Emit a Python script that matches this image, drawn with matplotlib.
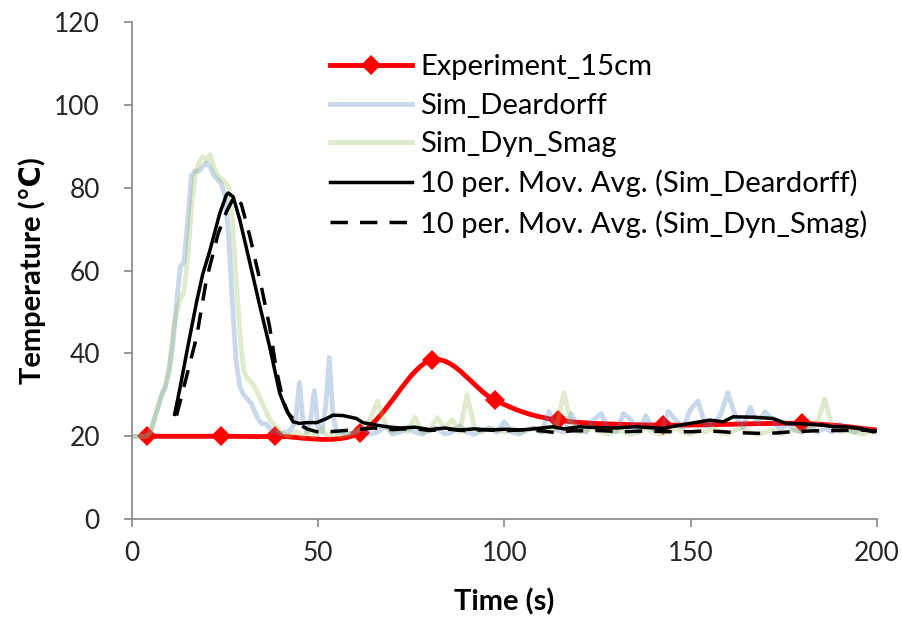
import matplotlib
matplotlib.use('Agg')
import matplotlib.pyplot as plt
from matplotlib.path import Path
from matplotlib.patches import PathPatch
from matplotlib.lines import Line2D

plt.rcParams['font.family'] = ['Lato', 'DejaVu Sans']

# experiment (thermocouple at 15 cm)
exp_time = [4, 24, 38.4, 61.2, 80.5, 97.5, 114.4, 142.6, 179.8, 200]
exp_temp = [20, 20, 20, 20.8, 38.4, 28.7, 23.9, 22.7, 23.1, 21.5]

# simulations, 1 s up to 56 s then every 2 s
sim_time = list(range(0, 57)) + list(range(58, 201, 2))
sim_deardorff = [20, 20, 20, 20, 20, 21, 24, 27, 30, 32,
                 36, 42, 52, 61, 62, 72, 83, 84, 84, 85,
                 86, 85, 83, 82, 81, 78, 68, 52, 38, 32,
                 30, 29, 28, 26, 24, 23, 23, 22, 21, 21,
                 20.5, 21, 21, 22, 24, 33, 23, 21, 24, 31,
                 22, 21, 27, 39, 25, 21, 21,
                 20.5, 21, 22, 20.5, 21, 22.5, 20.5, 21, 22, 21,
                 20.5, 21.5, 22, 20.5, 21, 22.5, 21, 20.5, 21.5, 22,
                 21, 23.5, 21, 20.5, 21.5, 22, 21, 26, 21.5, 21,
                 25.5, 21.5, 21, 24, 25.5, 21.5, 21, 25.5, 24, 21,
                 25, 21.5, 21, 26, 24, 22, 26.5, 28.5, 22.5, 23,
                 25, 30.5, 25, 22, 27, 23, 26, 24, 21.5, 23,
                 21.5, 21, 22.5, 21, 22, 21, 23, 21.5, 21, 22,
                 21.5, 21]
sim_dyn_smag = [20, 20, 20, 20, 20, 21, 24, 27, 30, 32,
                36, 45, 50, 53, 55, 63, 75, 83, 86, 87.5,
                86.5, 88, 85, 83, 82, 81.5, 80, 72, 58, 45,
                36, 34, 33, 32, 30, 28, 26, 24, 23, 22,
                21, 20.5, 20, 20.5, 21, 20.5, 20, 21, 20.5, 20,
                21, 22, 20.5, 20, 21, 20.5, 20,
                20.5, 21, 22, 24, 28.5, 23, 21, 22, 21, 24.5,
                21, 21.5, 24.5, 22, 24, 21, 30, 22, 21, 22,
                21.5, 21, 22, 21, 21.5, 22, 21, 21.5, 22, 30.5,
                23, 21, 21.5, 22, 21, 20.5, 21.5, 21, 20.5, 21,
                22, 21, 20.5, 21, 22, 21, 20.5, 21.5, 21, 22,
                21, 20.5, 21.5, 22, 21, 20.5, 21, 21.5, 20.5, 21,
                21.5, 21, 22, 23, 29, 22.5, 21, 21.5, 21, 20.5,
                21, 21]

# 10 period moving averages
ma_dear_time = [11.5, 13, 15, 17.4, 19, 21, 23.6, 25.4, 25.9, 27.2, 29, 31.7, 34.4, 37,
                39.7, 41.5, 43.3, 45, 47, 49.6, 52.3, 54, 56.7, 60.3, 62, 65, 68.4, 72,
                76, 80, 84, 88, 92, 96, 100, 104.2, 108, 113, 116, 120.3, 125, 130, 135,
                142.6, 146, 149.8, 155.2, 158.8, 161.4, 167, 172.1, 175.7, 180, 185.6,
                188.3, 191.9, 196, 199]
ma_dear_temp = [25.3, 32, 41.5, 52.5, 59, 65, 73.8, 78.3, 78.7, 77.8, 72.2, 61.8, 51.3, 41.6,
                30.4, 26.3, 23.5, 23.1, 23.3, 23.3, 24.3, 25.1, 25, 24.3, 23.3, 22.8, 22.3, 22,
                22.2, 21.6, 22, 21.5, 21.8, 21.5, 21.7, 21.5, 21.8, 22.3, 21.8, 22.3, 22.1, 22,
                22.3, 21.9, 22.5, 23.1, 23.9, 23.5, 24.7, 24.6, 24.3, 23.1, 23, 22.7,
                22.3, 22.3, 21.8, 21.1]
ma_dyn_time = [12, 14, 17.4, 20, 23.2, 25.4, 27, 28, 29.4, 31.7, 34.8, 37, 38.8, 40.6, 42,
               44.2, 47, 49.6, 53, 56, 60, 65, 70, 75, 80, 85, 90, 95, 100, 105, 110,
               113.7, 118, 125, 131.9, 138, 145, 150, 155, 162, 168.6, 173, 177, 183,
               190, 196, 200]
ma_dyn_temp = [25, 32, 44, 57.7, 69, 74.2, 77, 78, 76, 68.2, 56, 46.4, 36, 28.7, 25.5,
               23.4, 21.8, 21.1, 21.1, 21.3, 21.6, 22, 21.6, 21.9, 21.4, 21.7, 21.3, 21.6,
               21.3, 21.6, 21.3, 20.9, 21.3, 21.4, 21.1, 21.3, 21.1, 21.1, 21.3, 20.9, 20.7,
               20.8, 21.1, 21.3, 21.4, 21.5, 21.2]


def smooth_path(xs, ys):
    # Excel style smoothed line: cubic bezier through every point
    pts = list(zip(xs, ys))
    verts = [pts[0]]
    codes = [Path.MOVETO]
    n = len(pts)
    for i in range(n - 1):
        p0 = pts[i - 1] if i > 0 else pts[i]
        p1 = pts[i]
        p2 = pts[i + 1]
        p3 = pts[i + 2] if i + 2 < n else pts[i + 1]
        c1 = (p1[0] + (p2[0] - p0[0]) / 6, p1[1] + (p2[1] - p0[1]) / 6)
        c2 = (p2[0] - (p3[0] - p1[0]) / 6, p2[1] - (p3[1] - p1[1]) / 6)
        verts += [c1, c2, p2]
        codes += [Path.CURVE4] * 3
    return Path(verts, codes)


red = '#ff0000'
fig = plt.figure(figsize=(9.03, 6.27), dpi=100)
ax = fig.add_axes([0.146, 0.172, 0.825, 0.793])

ax.add_patch(PathPatch(smooth_path(exp_time, exp_temp), facecolor='none', edgecolor=red,
                       lw=3.5, capstyle='round', joinstyle='round', zorder=2))
ax.plot(exp_time[:-1], exp_temp[:-1], ls='none', marker='D', ms=10, color=red,
        markeredgewidth=0, zorder=2)

ax.plot(sim_time, sim_deardorff, color='#4F81BD', alpha=0.3, lw=3.5, zorder=3)
ax.plot(sim_time, sim_dyn_smag, color='#9BBB59', alpha=0.3, lw=3.5, zorder=3)

ax.plot(ma_dear_time, ma_dear_temp, color='black', lw=2.5, zorder=4)
ax.plot(ma_dyn_time, ma_dyn_temp, color='black', lw=2.5, dashes=(5, 3.5), zorder=4)

ax.set_xlim(0, 200)
ax.set_ylim(0, 120)
ax.set_xticks([0, 50, 100, 150, 200])
ax.set_yticks([0, 20, 40, 60, 80, 100, 120])

for side in ['top', 'right']:
    ax.spines[side].set_visible(False)
for side in ['left', 'bottom']:
    ax.spines[side].set_color('#868686')
    ax.spines[side].set_linewidth(1.2)
ax.tick_params(direction='out', length=6, width=1.2, color='#868686',
               labelsize=19, labelcolor='#262626', pad=17)
ax.tick_params(axis='x', pad=10)

ax.set_xlabel('Time (s)', fontsize=21, fontweight='bold', labelpad=16)
ax.set_ylabel('Temperature (℃)', fontsize=21, fontweight='bold', labelpad=6)

handles = [
    Line2D([], [], color=red, lw=3.5, marker='D', ms=10, markeredgewidth=0),
    Line2D([], [], color='#4F81BD', alpha=0.3, lw=3.5),
    Line2D([], [], color='#9BBB59', alpha=0.3, lw=3.5),
    Line2D([], [], color='black', lw=2.5),
    Line2D([], [], color='black', lw=2.5, dashes=(5, 3.5)),
]
labels = ['Experiment_15cm', 'Sim_Deardorff', 'Sim_Dyn_Smag',
          '10 per. Mov. Avg. (Sim_Deardorff)', '10 per. Mov. Avg. (Sim_Dyn_Smag)']
ax.legend(handles, labels, loc='upper left', bbox_to_anchor=(0.266, 0.935),
          frameon=False, fontsize=21, handlelength=2.8, handletextpad=0.3,
          labelspacing=0.43, borderpad=0, borderaxespad=0, numpoints=1)

fig.savefig('out.png', dpi=100)
